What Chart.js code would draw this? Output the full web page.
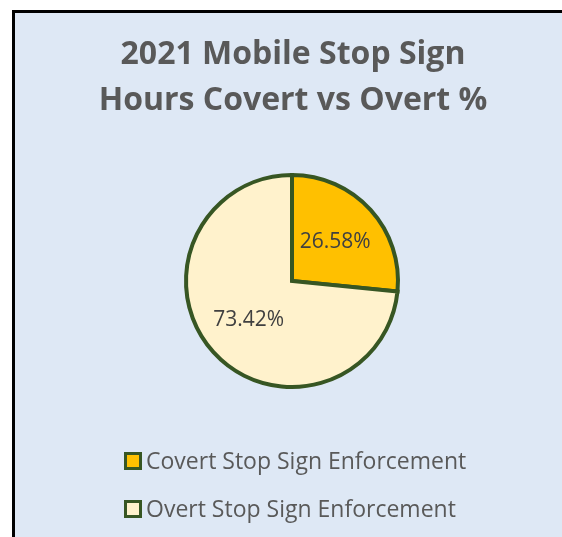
<!DOCTYPE html>
<html>
<head>
<meta charset="utf-8">
<script src="https://cdn.jsdelivr.net/npm/chart.js@4.4.1/dist/chart.umd.min.js"></script>
<style>
  html, body { margin: 0; padding: 0; background: #ffffff; }
  #wrap { position: relative; width: 562px; height: 537px; }
</style>
</head>
<body>
<div id="wrap"><canvas id="c" width="562" height="537"></canvas></div>
<script>
// Share of mobile stop-sign enforcement hours, 2021
const categories = ['Covert Stop Sign Enforcement', 'Overt Stop Sign Enforcement'];
const percentages = [26.58, 73.42];
const sliceColors = ['#FFC000', '#FFF2CC'];
const titleLines = ['2021 Mobile Stop Sign', 'Hours Covert vs Overt %'];

const FONT = "'Open Sans', 'Noto Sans', sans-serif";
const EDGE = '#375623';

// Panel background and frame
const panel = {
  id: 'panel',
  beforeDraw(chart) {
    const ctx = chart.ctx;
    ctx.save();
    ctx.fillStyle = '#ffffff';
    ctx.fillRect(0, 0, chart.width, chart.height);
    ctx.fillStyle = '#DEE8F5';
    ctx.fillRect(13, 10, chart.width, chart.height);
    ctx.strokeStyle = '#000000';
    ctx.lineWidth = 3;
    ctx.beginPath();
    ctx.moveTo(13.5, chart.height + 5);
    ctx.lineTo(13.5, 11.5);
    ctx.lineTo(chart.width + 5, 11.5);
    ctx.stroke();
    ctx.restore();
  }
};

// Title, slice percentages and the stacked legend
const overlay = {
  id: 'overlay',
  afterDatasetsDraw(chart) {
    const ctx = chart.ctx;
    ctx.save();
    ctx.fillStyle = '#595959';
    ctx.font = `bold 32px ${FONT}`;
    ctx.textAlign = 'center';
    ctx.textBaseline = 'middle';
    ctx.fillText(titleLines[0], 293, 55);
    ctx.fillText(titleLines[1], 293, 101);

    const meta = chart.getDatasetMeta(0);
    ctx.font = `21px ${FONT}`;
    ctx.fillStyle = '#404040';
    meta.data.forEach((arc, i) => {
      const p = arc.getProps(['x', 'y', 'startAngle', 'endAngle', 'outerRadius'], true);
      const mid = (p.startAngle + p.endAngle) / 2;
      const r = p.outerRadius * 0.55;
      ctx.fillText(percentages[i].toFixed(2) + '%', p.x + Math.cos(mid) * r, p.y + Math.sin(mid) * r);
    });

    ctx.font = `23px ${FONT}`;
    ctx.textAlign = 'left';
    categories.forEach((name, i) => {
      const cy = 461 + i * 48;
      ctx.fillStyle = sliceColors[i];
      ctx.fillRect(125.5, cy - 7.5, 15, 15);
      ctx.strokeStyle = EDGE;
      ctx.lineWidth = 3;
      ctx.strokeRect(125.5, cy - 7.5, 15, 15);
      ctx.fillStyle = '#595959';
      ctx.fillText(name, 146, cy + 1);
    });
    ctx.restore();
  }
};

new Chart(document.getElementById('c'), {
  type: 'pie',
  data: {
    labels: categories,
    datasets: [{
      data: percentages,
      backgroundColor: sliceColors,
      borderColor: EDGE,
      borderWidth: 4,
      borderJoinStyle: 'miter'
    }]
  },
  options: {
    responsive: false,
    animation: false,
    layout: { padding: { left: 184, right: 162, top: 172, bottom: 147 } },
    plugins: {
      legend: { display: false },
      tooltip: { enabled: false },
      title: { display: false }
    }
  },
  plugins: [panel, overlay]
});
</script>
</body>
</html>
